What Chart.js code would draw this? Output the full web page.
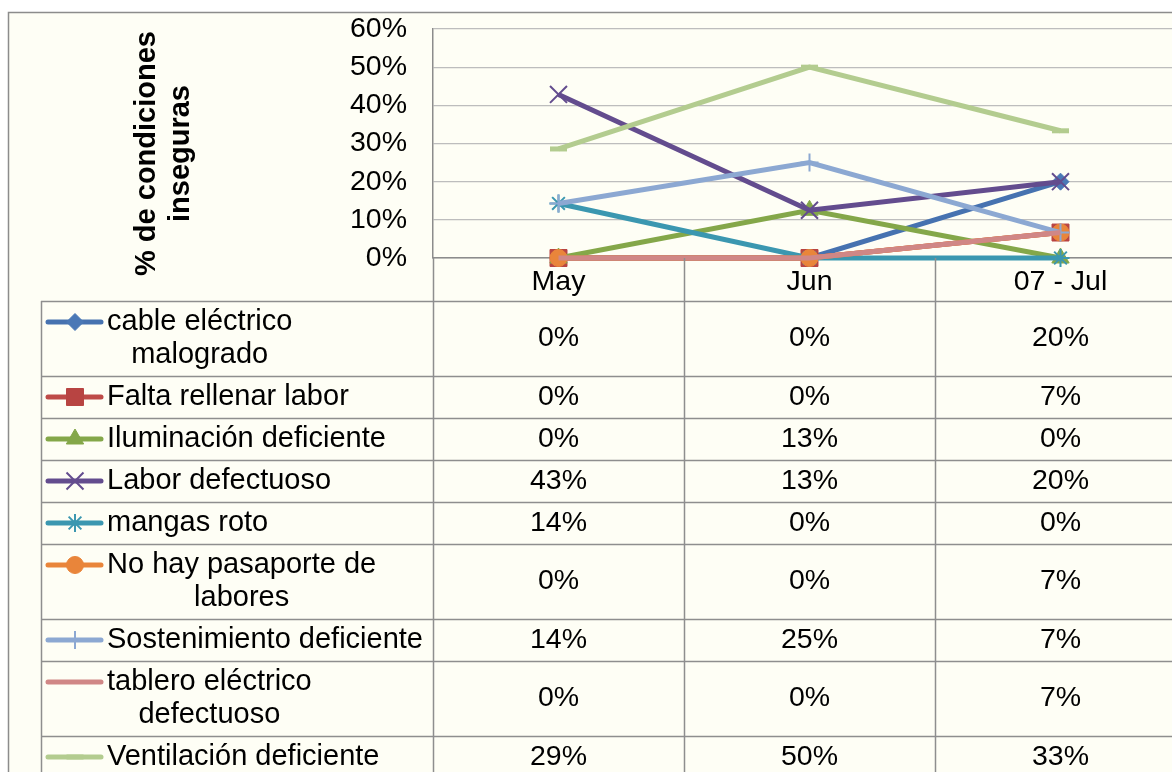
<!DOCTYPE html>
<html>
<head>
<meta charset="utf-8">
<script src="https://cdn.jsdelivr.net/npm/chart.js@4.4.1/dist/chart.umd.min.js"></script>
<style>
html,body{margin:0;padding:0;background:#fff;overflow:hidden;width:1172px;height:772px}
canvas{display:block}
</style>
</head>
<body>
<canvas id="c" width="1200" height="800"></canvas>
<script>
// ---- data ----
const categories = ['May', 'Jun', '07 - Jul'];
const axisTitle = ['% de condiciones', 'inseguras'];
const seriesNames = [
  'cable eléctrico malogrado',
  'Falta rellenar labor',
  'Iluminación deficiente',
  'Labor defectuoso',
  'mangas roto',
  'No hay pasaporte de labores',
  'Sostenimiento deficiente',
  'tablero eléctrico defectuoso',
  'Ventilación deficiente'
];
const cableElectrico   = [0, 0, 0.2];
const faltaRellenar    = [0, 0, 0.0667];
const iluminacion      = [0, 0.125, 0];
const laborDefectuoso  = [0.4286, 0.125, 0.2];
const mangasRoto       = [0.1429, 0, 0];
const noHayPasaporte   = [0, 0, 0.0667];
const sostenimiento    = [0.1429, 0.25, 0.0667];
const tableroElectrico = [0, 0, 0.0667];
const ventilacion      = [0.2857, 0.5, 0.3333];
const seriesValues = [cableElectrico, faltaRellenar, iluminacion, laborDefectuoso, mangasRoto,
                      noHayPasaporte, sostenimiento, tableroElectrico, ventilacion];

// ---- styles ----
const lineColors   = ['#4672B0', '#BE4B48', '#84A749', '#634C8E', '#3B97B0', '#E9853A', '#8CA8D2', '#D08786', '#B3CC8F'];
const markerFills  = ['#4A78B6', '#B84442', '#84A749', '#634C8E', '#3B97B0', '#E9853A', '#8CA8D2', '#D08786', '#B3CC8F'];
const markerStyles = ['rectRot', 'rect', 'triangle', 'crossRot', 'star', 'circle', 'cross', 'circle', 'line'];
const markerRadii  = [8.5, 12, 10, 12, 9, 8.5, 9, 0, 8.5];
const markerBW     = [1, 1, 1, 2, 2, 1, 2, 0, 5];

const FONT = '"Liberation Sans", Arial, Helvetica, sans-serif';
const PLOT_TOP = 29, PLOT_LEFT = 433, PLOT_BOTTOM = 258, CANVAS_W = 1200, CANVAS_H = 800;
const HEADER_H = 43, LINE_H = 33, ROW_H = 42;

function pct(v) { return Math.round(v * 100) + '%'; }

function wrap(ctx, text, maxW) {
  const words = text.split(' ');
  const lines = [];
  let cur = '';
  for (const w of words) {
    const t = cur ? cur + ' ' + w : w;
    if (ctx.measureText(t).width > maxW && cur) { lines.push(cur); cur = w; }
    else cur = t;
  }
  if (cur) lines.push(cur);
  return lines;
}

function marker(ctx, i, x, y) {
  if (!markerRadii[i]) return;
  ctx.save();
  ctx.fillStyle = markerFills[i];
  ctx.strokeStyle = markerFills[i];
  ctx.lineWidth = markerBW[i];
  Chart.helpers.drawPoint(ctx, {pointStyle: markerStyles[i], rotation: 0, radius: markerRadii[i], borderWidth: markerBW[i]}, x, y);
  ctx.restore();
}

const framePlugin = {
  id: 'frame',
  beforeDraw(chart) {
    const ctx = chart.ctx;
    ctx.save();
    ctx.fillStyle = '#ffffff';
    ctx.fillRect(0, 0, chart.width, chart.height);
    ctx.fillStyle = '#FEFEF5';
    ctx.fillRect(8, 12, chart.width, chart.height);
    ctx.strokeStyle = '#8C8C8C';
    ctx.lineWidth = 1.5;
    ctx.strokeRect(8.5, 12.5, chart.width, chart.height);
    ctx.restore();
  },
  afterDraw(chart) {
    const ctx = chart.ctx;
    const area = chart.chartArea;
    const xs = chart.scales.x;
    const colW = (area.right - area.left) / categories.length;
    ctx.save();
    // axis title
    ctx.fillStyle = '#000';
    ctx.font = 'bold 29px ' + FONT;
    ctx.textAlign = 'center';
    ctx.textBaseline = 'middle';
    ctx.translate(147, 153.5);
    ctx.rotate(-Math.PI / 2);
    axisTitle.forEach((t, k) => ctx.fillText(t, 0, k * 34));
    ctx.restore();

    // table
    ctx.save();
    ctx.font = '29px ' + FONT;
    const tableTop = area.bottom + HEADER_H;
    const tableLeft = 41;
    const rows = [];
    let y = tableTop;
    seriesNames.forEach((name, i) => {
      const lines = wrap(ctx, name, 322);
      const h = ROW_H + (lines.length - 1) * LINE_H;
      rows.push({y, h, lines});
      y += h;
    });
    const tableBottom = y;
    ctx.strokeStyle = '#8E8E8E';
    ctx.lineWidth = 1.5;
    ctx.beginPath();
    for (let k = 0; k <= categories.length; k++) {
      const x = Math.round(area.left + k * colW) + 0.5;
      ctx.moveTo(x, area.bottom);
      ctx.lineTo(x, tableBottom);
    }
    ctx.moveTo(tableLeft + 0.5, tableTop);
    ctx.lineTo(tableLeft + 0.5, tableBottom);
    rows.forEach(r => {
      ctx.moveTo(tableLeft, Math.round(r.y) + 0.5);
      ctx.lineTo(area.right, Math.round(r.y) + 0.5);
    });
    ctx.moveTo(tableLeft, Math.round(tableBottom) + 0.5);
    ctx.lineTo(area.right, Math.round(tableBottom) + 0.5);
    ctx.stroke();

    ctx.fillStyle = '#000';
    ctx.textBaseline = 'middle';
    rows.forEach((r, i) => {
      const n = r.lines.length;
      const firstY = r.y + r.h / 2 - (n - 1) * LINE_H / 2;
      ctx.save();
      ctx.strokeStyle = lineColors[i];
      ctx.lineWidth = 5;
      ctx.lineCap = 'round';
      ctx.beginPath();
      ctx.moveTo(48, firstY);
      ctx.lineTo(101, firstY);
      ctx.stroke();
      ctx.restore();
      marker(ctx, i, 75, firstY);
      ctx.font = '29px ' + FONT;
      const maxW = Math.max(...r.lines.map(l => ctx.measureText(l).width));
      ctx.textAlign = 'center';
      r.lines.forEach((l, k) => ctx.fillText(l, 107 + maxW / 2, firstY + k * LINE_H));
      ctx.font = '28.5px ' + FONT;
      seriesValues[i].forEach((v, j) => {
        ctx.fillText(pct(v), xs.getPixelForValue(j), r.y + r.h / 2);
      });
    });
    ctx.restore();
  }
};

new Chart(document.getElementById('c'), {
  type: 'line',
  data: {
    labels: categories,
    datasets: seriesNames.map((name, i) => ({
      label: name,
      data: seriesValues[i],
      borderColor: lineColors[i],
      backgroundColor: markerFills[i],
      borderWidth: 5,
      tension: 0,
      pointStyle: markerStyles[i],
      pointRadius: markerRadii[i],
      pointHoverRadius: markerRadii[i],
      pointBackgroundColor: markerFills[i],
      pointBorderColor: markerFills[i],
      pointBorderWidth: markerBW[i],
      clip: false,
      order: seriesNames.length - i
    }))
  },
  options: {
    responsive: false,
    animation: false,
    devicePixelRatio: 1,
    events: [],
    layout: {padding: {left: 0, top: PLOT_TOP, right: CANVAS_W - 1186, bottom: CANVAS_H - PLOT_BOTTOM - HEADER_H}},
    plugins: {legend: {display: false}, tooltip: {enabled: false}},
    scales: {
      x: {
        offset: true,
        grid: {display: false, drawTicks: false},
        border: {display: true, color: '#8C8C8C', width: 1.5},
        ticks: {color: '#000', font: {family: FONT, size: 28.5}, padding: 7, maxRotation: 0, autoSkip: false},
        afterFit(s) { s.height = HEADER_H; s.paddingLeft = 0; s.paddingRight = 0; }
      },
      y: {
        min: 0, max: 0.6,
        grid: {color: '#BDBDBD', lineWidth: 1.2, drawTicks: false},
        border: {display: true, color: '#8C8C8C', width: 1.5},
        ticks: {stepSize: 0.1, autoSkip: false, color: '#000', font: {family: FONT, size: 28.5}, padding: 26, callback: v => pct(v)},
        afterFit(s) { s.width = PLOT_LEFT; s.paddingTop = 0; s.paddingBottom = 0; }
      }
    }
  },
  plugins: [framePlugin]
});
</script>
</body>
</html>
